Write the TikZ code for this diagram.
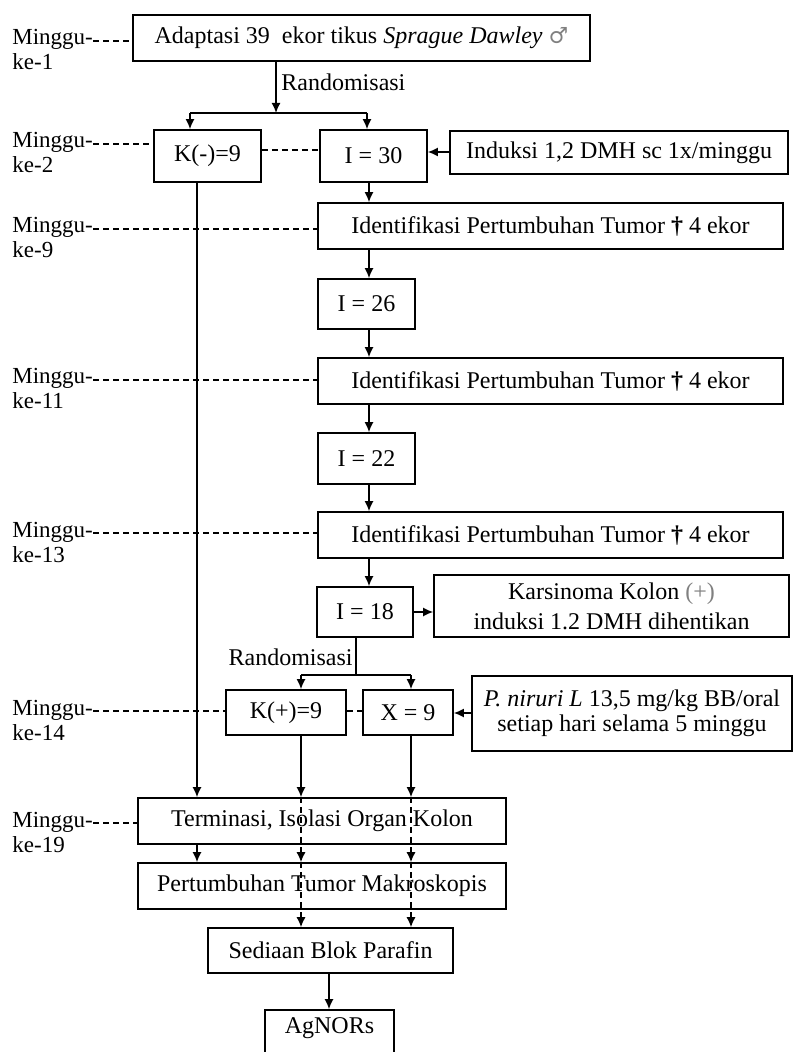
\documentclass[tikz,border=0pt]{standalone}
\usepackage{fontspec}
\setmainfont{Liberation Serif}
\newfontfamily\symf{DejaVu Serif}
\usetikzlibrary{arrows.meta}
\begin{document}
\begin{tikzpicture}[x=0.5pt,y=-0.5pt,
  font=\fontsize{12}{13}\selectfont,
  box/.style={draw, line width=0.8pt, inner sep=1pt, align=center},
  arr/.style={line width=0.8pt, -{Latex[length=5pt,width=4.5pt]}},
  ln/.style={line width=0.8pt},
  dsh/.style={line width=0.7pt, dash pattern=on 3pt off 2pt},
  darr/.style={line width=0.7pt, dash pattern=on 3pt off 2pt, -{Latex[length=5pt,width=4.5pt]}},
  wk/.style={anchor=base west, inner sep=0pt, font=\fontsize{11.5}{12}\selectfont}]
\clip (0,0) rectangle (795,1052);
\fill[white] (0,0) rectangle (795,1052);

% ---- boxes ----
\node[box, minimum width=228.5pt, minimum height=23pt] (top) at (361.5,38)
  {Adaptasi 39\ \ ekor tikus \textit{Sprague Dawley} {\symf\fontsize{11}{12}\selectfont\color{gray}♂}};
\node[box, minimum width=53.5pt, minimum height=26pt] (kmin) at (207.5,156) {K(-)=9};
\node[box, minimum width=53.5pt, minimum height=26pt] (i30) at (373.5,156) {I = 30};
\node[box, minimum width=169pt, minimum height=21.5pt] (ind) at (619,152.5) {Induksi 1,2 DMH sc 1x/minggu};
\node[box, minimum width=232.5pt, minimum height=23pt] (id1) at (550.5,226) {Identifikasi Pertumbuhan Tumor \textbf{†} 4 ekor};
\node[box, minimum width=48.5pt, minimum height=25pt] (i26) at (366.5,304) {I = 26};
\node[box, minimum width=232.5pt, minimum height=23pt] (id2) at (550.5,381) {Identifikasi Pertumbuhan Tumor \textbf{†} 4 ekor};
\node[box, minimum width=48.5pt, minimum height=25.5pt] (i22) at (366.5,458.5) {I = 22};
\node[box, minimum width=232.5pt, minimum height=23pt] (id3) at (550.5,535) {Identifikasi Pertumbuhan Tumor \textbf{†} 4 ekor};
\node[box, minimum width=48pt, minimum height=25pt] (i18) at (365,612) {I = 18};
\node[box, minimum width=177.5pt, minimum height=31pt, font=\fontsize{12}{15}\selectfont] (kars) at (611.5,606)
  {Karsinoma Kolon {\color{gray}(+)}\\induksi 1.2 DMH dihentikan};
\node[box, minimum width=60pt, minimum height=22.5pt] (kplus) at (286,712.5) {K(+)=9};
\node[box, minimum width=45pt, minimum height=22.5pt] (x9) at (408,712.5) {X = 9};
\node[box, minimum width=160pt, minimum height=37.5pt, font=\fontsize{12}{12.5}\selectfont] (pn) at (632,713.5)
  {\textit{P. niruri L} 13,5 mg/kg BB/oral\\setiap hari selama 5 minggu};
\node[box, minimum width=184pt, minimum height=23pt] (term) at (322,821) {Terminasi, Isolasi Organ Kolon};
\node[box, minimum width=184pt, minimum height=23pt] (pert) at (322,886) {Pertumbuhan Tumor Makroskopis};
\node[box, minimum width=122.5pt, minimum height=22.5pt] (sed) at (330.5,950.5) {Sediaan Blok Parafin};
\node[box, minimum width=64.5pt, minimum height=24pt, text depth=8pt] (ag) at (329.5,1034) {AgNORs};

% ---- randomisation labels ----
\node[anchor=west, inner sep=1pt] (r1) at (279,82) {Randomisasi};
\node[anchor=east, inner sep=1pt] (r2) at (355,657) {Randomisasi};

% ---- week labels (dashed line y = baseline - 4) ----
\node[wk] (m1) at (12,45) {Minggu-};   \node[wk] (k1) at (12,70) {ke-1};
\node[wk] (m2) at (12,148) {Minggu-};  \node[wk] (k2) at (12,173) {ke-2};
\node[wk] (m9) at (12,233) {Minggu-};  \node[wk] (k9) at (12,258) {ke-9};
\node[wk] (m11) at (12,384) {Minggu-}; \node[wk] (k11) at (12,409) {ke-11};
\node[wk] (m13) at (12,537) {Minggu-}; \node[wk] (k13) at (12,562) {ke-13};
\node[wk] (m14) at (12,715) {Minggu-}; \node[wk] (k14) at (12,740) {ke-14};
\node[wk] (m19) at (12,827) {Minggu-}; \node[wk] (k19) at (12,852) {ke-19};

\draw[dsh] (m1.east |- 0,41) -- (top.west |- 0,41);
\draw[dsh] (m2.east |- 0,144) -- (kmin.west |- 0,144);
\draw[dsh] (kmin.east |- 0,150) -- (i30.west |- 0,150);
\draw[dsh] (m9.east |- 0,229) -- (id1.west |- 0,229);
\draw[dsh] (m11.east |- 0,380) -- (id2.west |- 0,380);
\draw[dsh] (m13.east |- 0,533) -- (id3.west |- 0,533);
\draw[dsh] (m14.east |- 0,711) -- (kplus.west |- 0,711);
\draw[dsh] (kplus.east |- 0,711) -- (x9.west |- 0,711);
\draw[dsh] (m19.east |- 0,823) -- (term.west |- 0,823);

% ---- first randomisation ----
\coordinate (s1) at (276,113);
\coordinate (s1l) at (190,113);
\coordinate (s1r) at (367,113);
\draw[arr] (top.south -| s1) -- (s1);
\draw[ln] (s1l) -- (s1r);
\draw[arr] (s1l) -- (s1l |- kmin.north);
\draw[arr] (s1r) -- (s1r |- i30.north);

% ---- induction chain ----
\draw[arr] (ind.west |- 0,152) -- (i30.east |- 0,152);
\draw[arr] (i30.south -| 369,0) -- (id1.north -| 369,0);
\draw[arr] (id1.south -| 369,0) -- (i26.north -| 369,0);
\draw[arr] (i26.south -| 369,0) -- (id2.north -| 369,0);
\draw[arr] (id2.south -| 369,0) -- (i22.north -| 369,0);
\draw[arr] (i22.south -| 369,0) -- (id3.north -| 369,0);
\draw[arr] (id3.south -| 369,0) -- (i18.north -| 369,0);
\draw[arr] (i18.east) -- (kars.west |- i18.east);

% ---- second randomisation ----
\coordinate (s2) at (356,675);
\coordinate (s2l) at (301,675);
\coordinate (s2r) at (411,675);
\draw[ln] (i18.south -| s2) -- (s2);
\draw[ln] (s2l) -- (s2r);
\draw[arr] (s2l) -- (s2l |- kplus.north);
\draw[arr] (s2r) -- (s2r |- x9.north);
\draw[arr] (pn.west |- 0,713) -- (x9.east |- 0,713);

% ---- to termination ----
\draw[arr] (kmin.south -| 197,0) -- (term.north -| 197,0);
\draw[arr] (kplus.south -| s2l) -- (term.north -| s2l);
\draw[arr] (x9.south -| s2r) -- (term.north -| s2r);

% ---- final steps ----
\draw[arr] (term.south -| 197,0) -- (pert.north -| 197,0);
\draw[darr] (term.north -| s2l) -- (pert.north -| s2l);
\draw[darr] (term.north -| s2r) -- (pert.north -| s2r);
\draw[darr] (pert.north -| s2l) -- (sed.north -| s2l);
\draw[darr] (pert.north -| s2r) -- (sed.north -| s2r);
\draw[arr] (sed.south -| 329,0) -- (ag.north -| 329,0);
\end{tikzpicture}
\end{document}
